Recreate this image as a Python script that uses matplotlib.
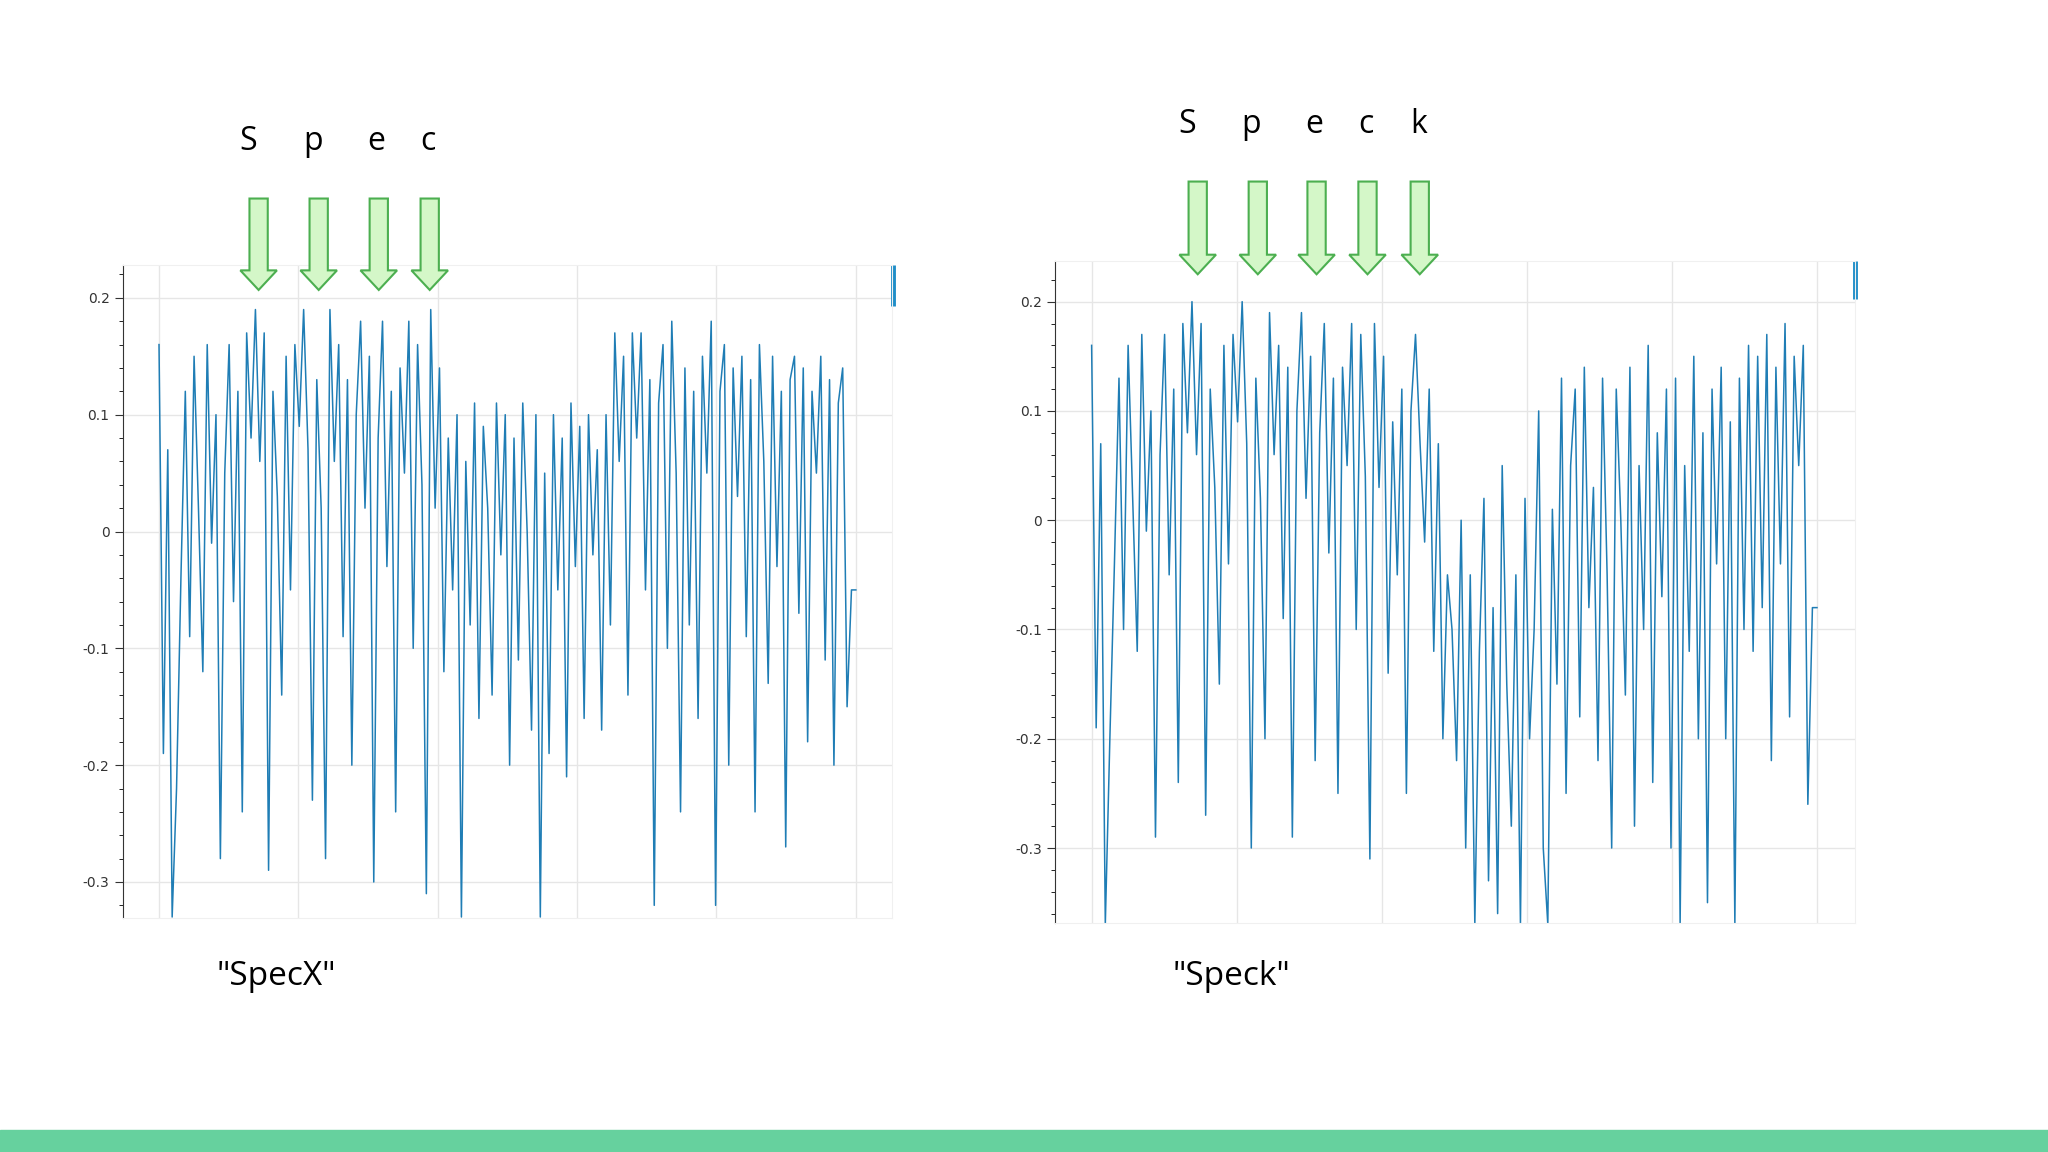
import matplotlib.pyplot as plt
import numpy as np
from matplotlib.patches import Polygon, Rectangle
from matplotlib.ticker import MultipleLocator

# waveform samples, 160 per panel over x = 0..5
specx = [0.16,-0.19,0.07,-0.33,-0.22,-0.04,0.12,-0.09,0.15,0.02,-0.12,0.16,-0.01,0.10,-0.28,0.05,
         0.16,-0.06,0.12,-0.24,0.17,0.08,0.19,0.06,0.17,-0.29,0.12,0.03,-0.14,0.15,-0.05,0.16,
         0.09,0.19,0.07,-0.23,0.13,0.02,-0.28,0.19,0.06,0.16,-0.09,0.13,-0.20,0.10,0.18,0.02,
         0.15,-0.30,0.08,0.18,-0.03,0.12,-0.24,0.14,0.05,0.18,-0.10,0.16,0.04,-0.31,0.19,0.02,
         0.14,-0.12,0.08,-0.05,0.10,-0.33,0.06,-0.08,0.11,-0.16,0.09,0.02,-0.14,0.11,-0.02,0.10,
         -0.20,0.08,-0.11,0.11,0.00,-0.17,0.10,-0.33,0.05,-0.19,0.10,-0.05,0.08,-0.21,0.11,-0.03,
         0.09,-0.16,0.10,-0.02,0.07,-0.17,0.10,-0.08,0.17,0.06,0.15,-0.14,0.17,0.08,0.17,-0.05,
         0.13,-0.32,0.11,0.16,-0.10,0.18,0.05,-0.24,0.14,-0.08,0.12,-0.16,0.15,0.05,0.18,-0.32,
         0.12,0.16,-0.20,0.14,0.03,0.15,-0.09,0.13,-0.24,0.16,0.06,-0.13,0.15,-0.03,0.12,-0.27,
         0.13,0.15,-0.07,0.14,-0.18,0.12,0.05,0.15,-0.11,0.13,-0.20,0.11,0.14,-0.15,-0.05,-0.05]
speck = [0.16,-0.19,0.07,-0.37,-0.20,-0.04,0.13,-0.10,0.16,0.02,-0.12,0.17,-0.01,0.10,-0.29,0.06,
         0.17,-0.05,0.12,-0.24,0.18,0.08,0.20,0.06,0.18,-0.27,0.12,0.03,-0.15,0.16,-0.04,0.17,
         0.09,0.20,0.07,-0.30,0.13,0.02,-0.20,0.19,0.06,0.16,-0.09,0.14,-0.29,0.10,0.19,0.02,
         0.15,-0.22,0.08,0.18,-0.03,0.13,-0.25,0.14,0.05,0.18,-0.10,0.17,0.04,-0.31,0.18,0.03,
         0.15,-0.14,0.09,-0.05,0.12,-0.25,0.10,0.17,0.07,-0.02,0.12,-0.12,0.07,-0.20,-0.05,-0.10,
         -0.22,0.00,-0.30,-0.05,-0.37,-0.12,0.02,-0.33,-0.08,-0.36,0.05,-0.15,-0.28,-0.05,-0.37,0.02,
         -0.20,-0.10,0.10,-0.30,-0.37,0.01,-0.15,0.13,-0.25,0.05,0.12,-0.18,0.14,-0.08,0.03,-0.22,
         0.13,-0.05,-0.30,0.12,0.00,-0.16,0.14,-0.28,0.05,-0.10,0.16,-0.24,0.08,-0.07,0.12,-0.30,
         0.13,-0.37,0.05,-0.12,0.15,-0.20,0.08,-0.35,0.12,-0.04,0.14,-0.20,0.09,-0.37,0.13,-0.10,
         0.16,-0.12,0.15,-0.08,0.17,-0.22,0.14,-0.04,0.18,-0.18,0.15,0.05,0.16,-0.26,-0.08,-0.08]
left_letters = ["S", "p", "e", "c"]
right_letters = ["S", "p", "e", "c", "k"]
captions = ['"SpecX"', '"Speck"']

W, H = 1568, 882  # layout measured in this pixel grid
fig = plt.figure(figsize=(20.48, 11.52), dpi=100)
FONT = "Open Sans"

def rect(l, t, r, b):
    return [l / W, 1 - b / H, (r - l) / W, (b - t) / H]

def panel(box, data, ylim, xmin):
    ax = fig.add_axes(rect(*box))
    x = np.linspace(0, 5, len(data))
    ax.plot(x, data, color="#1f7db5", lw=1.1)
    ax.set_xlim(xmin, 5.26)
    ax.set_ylim(*ylim)
    ax.set_xticks(range(6))
    ax.set_yticks([0.2, 0.1, 0, -0.1, -0.2, -0.3])
    ax.set_yticklabels(["0.2", "0.1", "0", "-0.1", "-0.2", "-0.3"])
    ax.yaxis.set_minor_locator(MultipleLocator(0.02))
    ax.tick_params(axis="x", length=0, labelbottom=False)
    ax.tick_params(axis="y", labelsize=10, colors="#333333", length=6)
    ax.tick_params(axis="y", which="minor", length=3)
    ax.grid(color="#e6e6e6", lw=1)
    for s in ["top", "right", "bottom"]:
        ax.spines[s].set_color("#f0f0f0")
    ax.spines["left"].set_color("#333333")
    ax.plot([5.265, 5.265], [ylim[1] - 0.0, ylim[1] - 0.035], color="#1f8ec8",
            lw=3.5, clip_on=False, solid_capstyle="butt")
    return ax

panel((94, 203, 683, 703), specx, (-0.331, 0.228), -0.26)
panel((808, 200, 1420, 707), speck, (-0.369, 0.237), -0.25)

ov = fig.add_axes([0, 0, 1, 1])
ov.set_xlim(0, W)
ov.set_ylim(H, 0)
ov.axis("off")

def arrow(cx, top, bot):
    sw, hw, hl = 7, 14, 15
    pts = [(cx - sw, top), (cx + sw, top), (cx + sw, bot - hl), (cx + hw, bot - hl),
           (cx, bot), (cx - hw, bot - hl), (cx - sw, bot - hl)]
    ov.add_patch(Polygon(pts, closed=True, fc="#d4f7c8", ec="#4caf50", lw=1.5))

for letter, lx, ax_ in zip(left_letters, [190, 240, 288, 328], [198, 244, 290, 329]):
    ov.text(lx, 108, letter, fontsize=23, ha="center", va="center", family=FONT)
    arrow(ax_, 152, 222)
for letter, lx, ax_ in zip(right_letters, [909, 958, 1006, 1046, 1086], [917, 963, 1008, 1047, 1087]):
    ov.text(lx, 95, letter, fontsize=23, ha="center", va="center", family=FONT)
    arrow(ax_, 139, 210)

ov.text(166, 748, captions[0], fontsize=24, ha="left", va="center", family=FONT)
ov.text(898, 748, captions[1], fontsize=24, ha="left", va="center", family=FONT)
ov.add_patch(Rectangle((0, 865), W, 17, color="#66d19e"))

fig.savefig("out.png", dpi=100)
